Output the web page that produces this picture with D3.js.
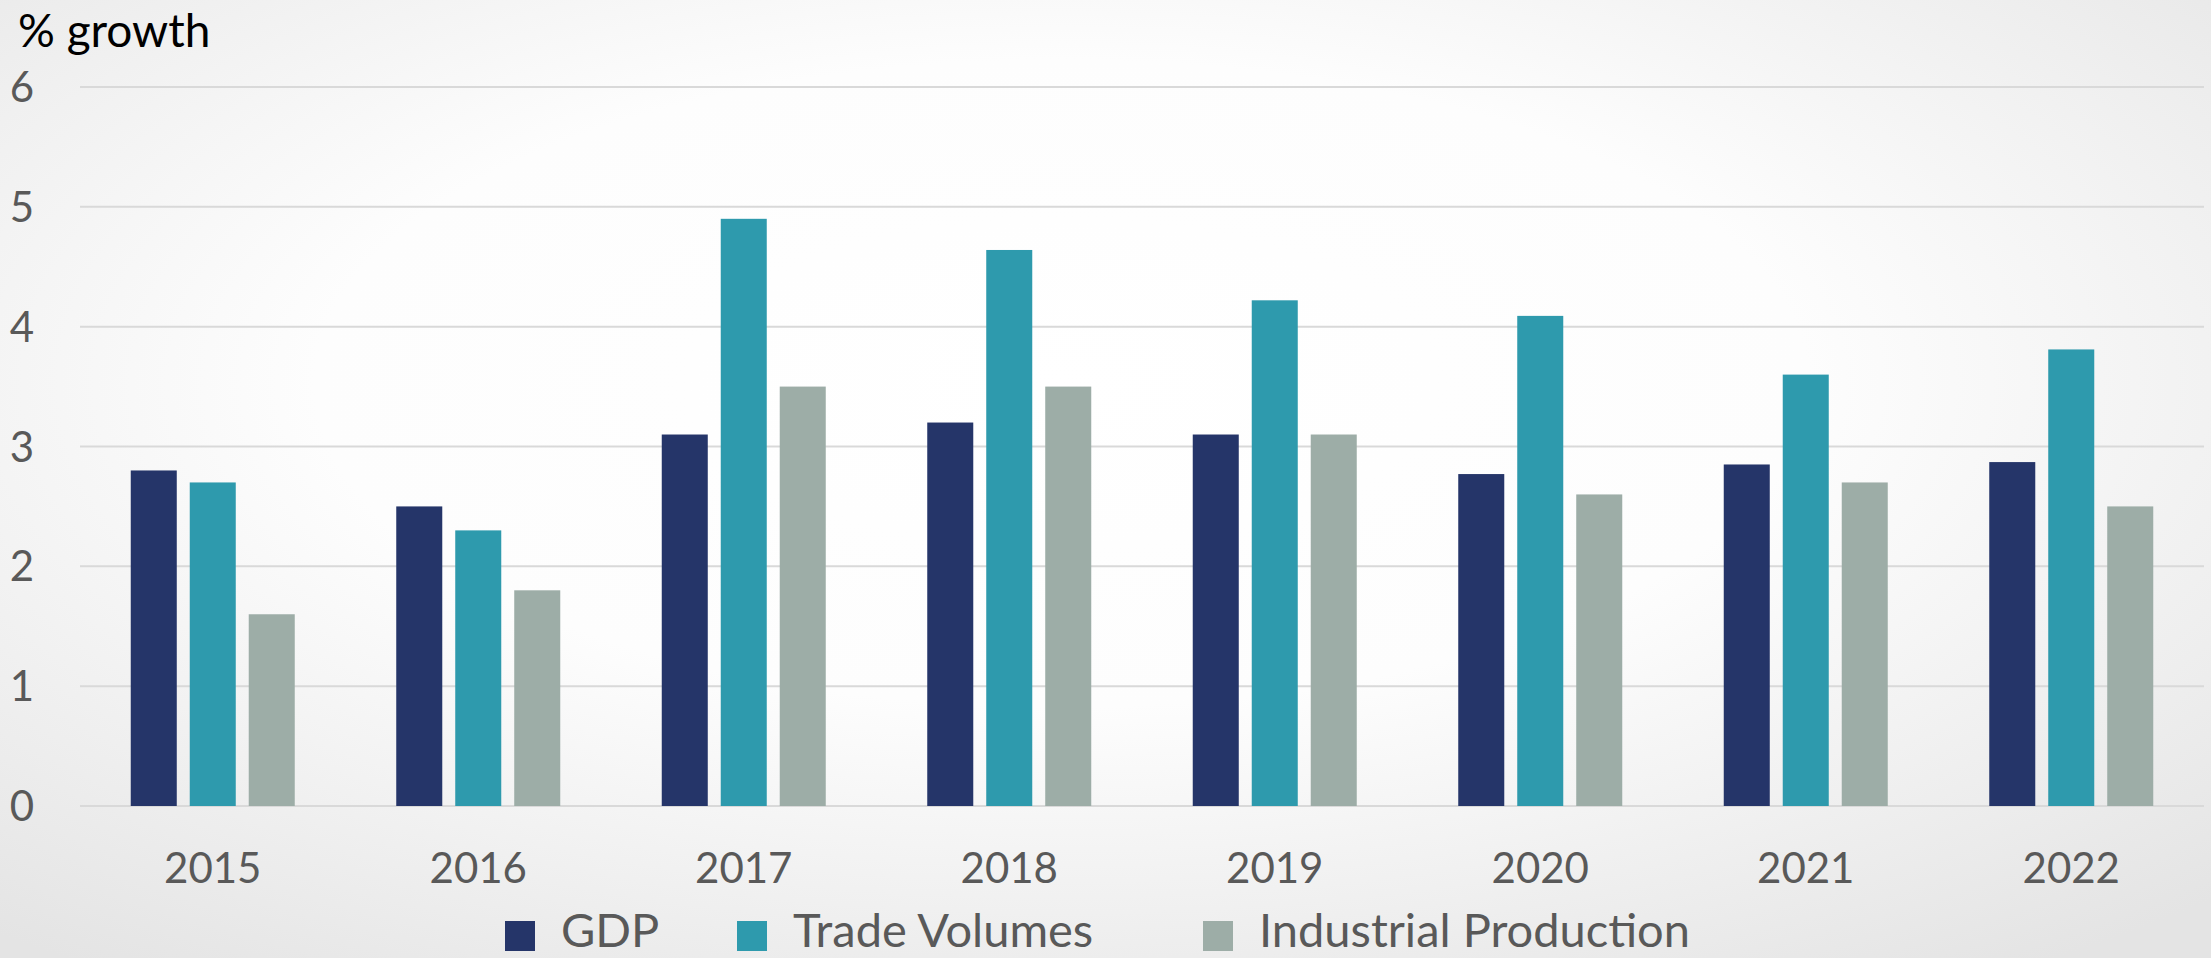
<!DOCTYPE html>
<html><head><meta charset="utf-8">
<script src="https://cdn.jsdelivr.net/npm/d3@7"></script>
<style>html,body{margin:0;padding:0;overflow:hidden;background:#fff}</style>
</head><body>
<svg id="chart" width="2211" height="958"></svg>
<script>
const years = ["2015","2016","2017","2018","2019","2020","2021","2022"];
const seriesNames = ["GDP","Trade Volumes","Industrial Production"];
const gdp = [2.8, 2.5, 3.1, 3.2, 3.1, 2.77, 2.85, 2.87];
const trade = [2.7, 2.3, 4.9, 4.64, 4.22, 4.09, 3.6, 3.81];
const industrial = [1.6, 1.8, 3.5, 3.5, 3.1, 2.6, 2.7, 2.5];
const colors = ["#253569", "#2E9AAD", "#9DADA7"];
const yTicks = [0,1,2,3,4,5,6];
const yTitle = "% growth";

const seriesValues = [gdp, trade, industrial];
const svg = d3.select("#chart");
const W = 2211, H = 958;
const font = "Lato, 'Open Sans', sans-serif";

// background radial gradient
const defs = svg.append("defs");
const rg = defs.append("radialGradient").attr("id","bg")
  .attr("cx","48%").attr("cy","40%").attr("r","75%");
rg.append("stop").attr("offset","0%").attr("stop-color","#ffffff");
rg.append("stop").attr("offset","45%").attr("stop-color","#fdfdfd");
rg.append("stop").attr("offset","100%").attr("stop-color","#e4e4e4");
svg.append("rect").attr("width",W).attr("height",H).attr("fill","url(#bg)");

const plotL = 80, plotR = 2204, plotT = 87, plotB = 806;
const x0 = d3.scaleBand().domain(years).range([plotL, plotR]).padding(0);
const groupW = 164;
const x1 = d3.scaleBand().domain(seriesNames).range([0, groupW]).paddingInner(0.22).paddingOuter(0);
const y = d3.scaleLinear().domain([0,6]).range([plotB, plotT]);

// gridlines
svg.append("g").selectAll("line").data(yTicks).join("line")
  .attr("x1", plotL).attr("x2", plotR)
  .attr("y1", d=>y(d)).attr("y2", d=>y(d))
  .attr("stroke","#d9d9d9").attr("stroke-width",2);

// y labels
svg.append("g").selectAll("text").data(yTicks).join("text")
  .attr("x", 34).attr("y", d=>y(d)).attr("dy","0.36em")
  .attr("text-anchor","end")
  .attr("font-family", font).attr("font-size", 42).attr("fill","#595959")
  .text(d=>d);

// bars
const groups = svg.append("g").selectAll("g").data(years).join("g")
  .attr("transform", d=>`translate(${x0(d) + (x0.bandwidth()-groupW)/2},0)`);
groups.selectAll("rect").data((d,i)=>seriesNames.map((s,j)=>({s, v: seriesValues[j][i], c: colors[j]})))
  .join("rect")
  .attr("x", d=>x1(d.s)).attr("width", x1.bandwidth())
  .attr("y", d=>y(d.v)).attr("height", d=>y(0)-y(d.v))
  .attr("fill", d=>d.c);

// x labels
svg.append("g").selectAll("text").data(years).join("text")
  .attr("x", d=>x0(d)+x0.bandwidth()/2).attr("y", 883)
  .attr("text-anchor","middle")
  .attr("font-family", font).attr("font-size", 42).attr("fill","#595959")
  .text(d=>d);

// title
svg.append("text").attr("x", 18).attr("y", 47)
  .attr("font-family", font).attr("font-size", 46).attr("fill","#000")
  .text(yTitle);

// legend
const legX = [505, 737, 1203];
const leg = svg.append("g").selectAll("g").data(seriesNames).join("g")
  .attr("transform", (d,i)=>`translate(${legX[i]},0)`);
leg.append("rect").attr("x",0).attr("y",921).attr("width",30).attr("height",30)
  .attr("fill",(d,i)=>colors[i]);
leg.append("text").attr("x",56).attr("y",947)
  .attr("font-family", font).attr("font-size", 47).attr("fill","#595959")
  .text(d=>d);
</script>
</body></html>
